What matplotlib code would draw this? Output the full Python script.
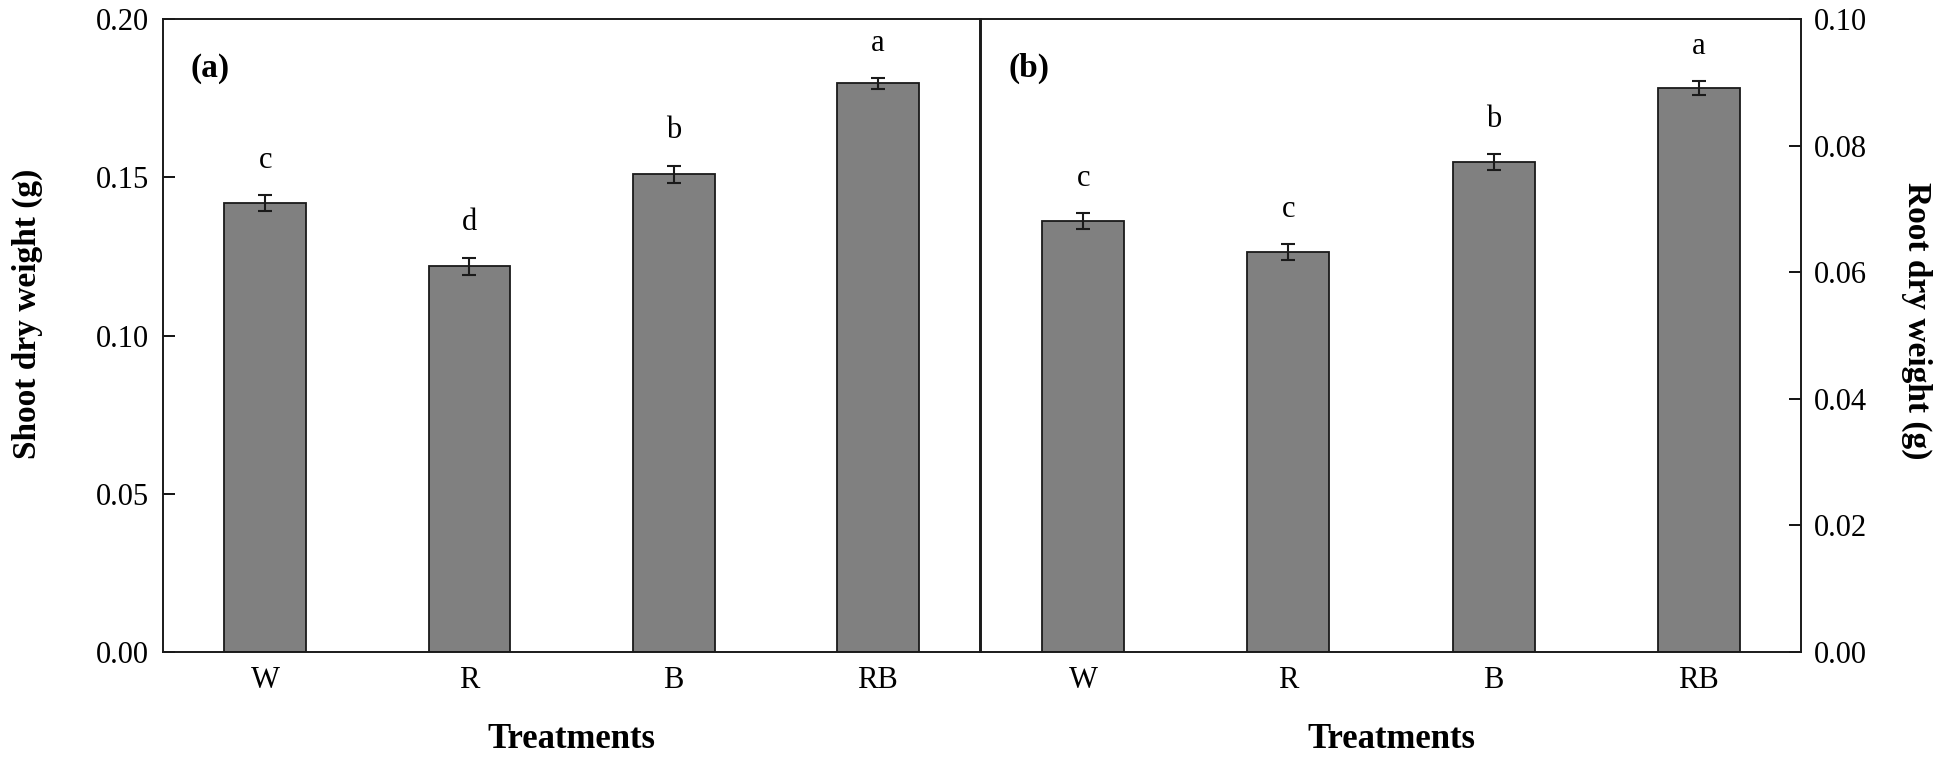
import matplotlib
matplotlib.use('Agg')
import matplotlib.pyplot as plt

plt.rcParams['font.family'] = ['Liberation Serif', 'DejaVu Serif']

# Data
treatments = ['W', 'R', 'B', 'RB']
shoot_mean = [0.1418, 0.1219, 0.1509, 0.1797]
shoot_err = [0.0025, 0.0027, 0.0028, 0.0017]
shoot_letters = ['c', 'd', 'b', 'a']
root_mean = [0.0681, 0.0632, 0.0774, 0.0891]
root_err = [0.0013, 0.0012, 0.0013, 0.0011]
root_letters = ['c', 'c', 'b', 'a']

fig = plt.figure(figsize=(19.46, 7.63), dpi=100)
ax1 = fig.add_axes([0.0838, 0.1455, 0.4198, 0.8295])
ax2 = fig.add_axes([0.5041, 0.1455, 0.4214, 0.8295])


def draw_panel(ax, means, errs, letters, tag, ylim, yticks, side):
    x = list(range(len(treatments)))
    ax.bar(x, means, width=0.4, color='#808080', edgecolor='#1a1a1a',
           linewidth=1.3, zorder=2)
    ax.errorbar(x, means, yerr=errs, fmt='none', ecolor='#1a1a1a',
                elinewidth=1.5, capsize=4.7, capthick=1.5, zorder=3)
    for xi, m, e, lab in zip(x, means, errs, letters):
        ax.annotate(lab, (xi, m + e), xytext=(0, 25), textcoords='offset points',
                    ha='center', va='center', fontsize=22)
    ax.text(0.034, 0.922, tag, transform=ax.transAxes, fontsize=24,
            fontweight='bold', ha='left', va='center')
    ax.set_xlim(-0.5, 3.5)
    ax.set_ylim(*ylim)
    ax.set_yticks(yticks)
    ax.set_yticklabels(['%.2f' % t for t in yticks])
    ax.set_xticks(x)
    ax.set_xticklabels(treatments)
    for s in ax.spines.values():
        s.set_linewidth(1.4)
        s.set_color('#1a1a1a')
    ax.tick_params(axis='x', direction='in', length=8.5, width=1.3,
                   labelsize=22, pad=10, top=False)
    if side == 'left':
        ax.tick_params(axis='y', direction='in', length=8.5, width=1.3,
                       labelsize=22, pad=10, left=True, right=False)
    else:
        ax.yaxis.tick_right()
        ax.yaxis.set_label_position('right')
        ax.tick_params(axis='y', direction='in', length=8.5, width=1.3,
                       labelsize=22, pad=9, left=False, right=True)
    ax.set_xlabel('Treatments', fontsize=25, fontweight='bold', va='top')
    ax.xaxis.set_label_coords(0.5, -0.112)


draw_panel(ax1, shoot_mean, shoot_err, shoot_letters, '(a)',
           (0, 0.20), [0.00, 0.05, 0.10, 0.15, 0.20], 'left')
draw_panel(ax2, root_mean, root_err, root_letters, '(b)',
           (0, 0.10), [0.00, 0.02, 0.04, 0.06, 0.08, 0.10], 'right')

ax1.set_ylabel('Shoot dry weight (g)', fontsize=24, fontweight='bold',
               va='center')
ax1.yaxis.set_label_coords(-0.166, 0.535)
ax2.set_ylabel('Root dry weight (g)', fontsize=24, fontweight='bold',
               rotation=270, va='center')
ax2.yaxis.set_label_coords(1.141, 0.524)

fig.savefig('out.png', dpi=100)
